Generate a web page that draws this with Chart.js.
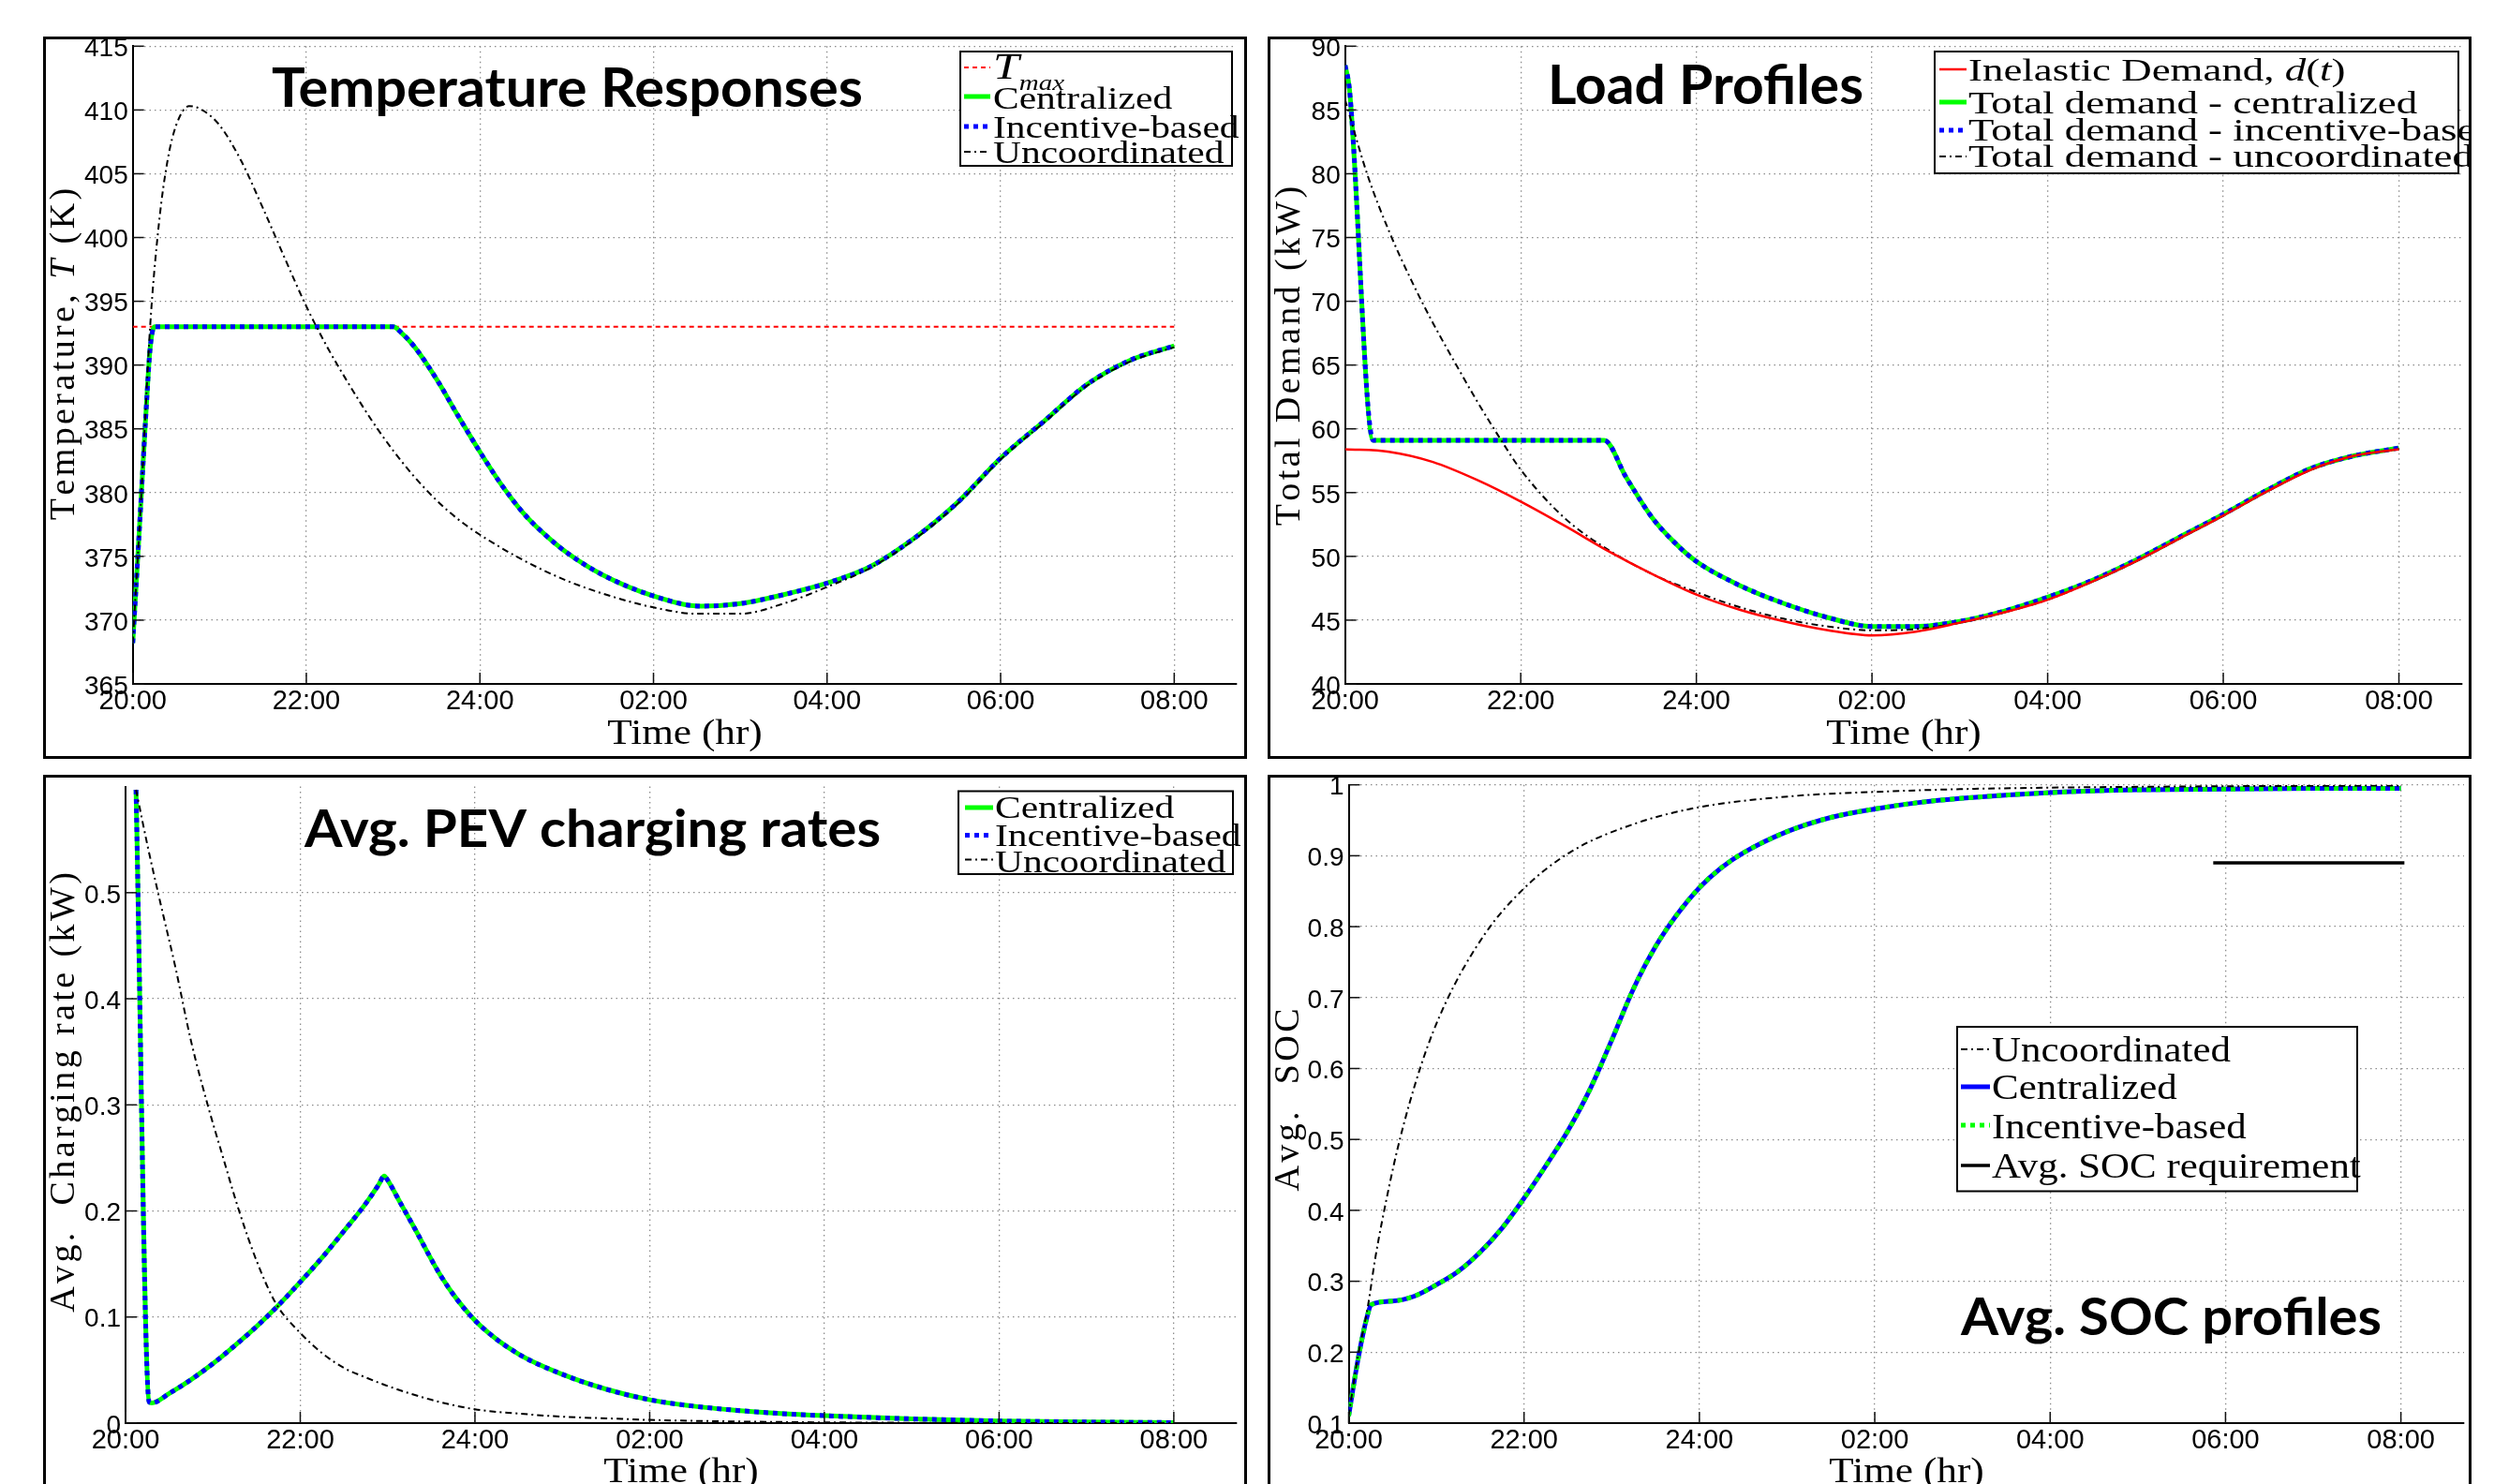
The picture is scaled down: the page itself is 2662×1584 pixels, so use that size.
<!DOCTYPE html>
<html>
<head>
<meta charset="utf-8">
<title>PEV charging coordination</title>
<script src="https://cdn.jsdelivr.net/npm/chart.js@4.4.1/dist/chart.umd.min.js"></script>
<style>
  html, body { margin: 0; padding: 0; background: #fff; }
  body { position: relative; width: 2662px; height: 1584px; overflow: hidden; }
  .frame { position: absolute; box-sizing: border-box; border: 3px solid #000; overflow: hidden; background: #fff; }
  .frame canvas { position: absolute; left: 0; top: 0; }
</style>
</head>
<body>
<script>
// x axis is "hours after 20:00"
var tickHours = [0, 2, 4, 6, 8, 10, 12];
var timeLabels = ['20:00', '22:00', '24:00', '02:00', '04:00', '06:00', '08:00'];
var xMax = 12.72;

// temperature responses (K)
var tempTicks = [365, 370, 375, 380, 385, 390, 395, 400, 405, 410, 415];
var tmaxHours = [0, 12];
var tmaxValues = [393, 393];
var tempHours = [0, 0.05, 0.1, 0.15, 0.2, 0.25, 3.0, 3.1, 3.25, 3.5, 3.75, 4.0, 4.25, 4.5, 4.75, 5.0, 5.4, 6.0, 6.55, 7.0, 7.5, 8.0, 8.5, 9.0, 9.5, 10.0, 10.5, 11.0, 11.5, 12.0];
var tempCentralized = [368.2, 374.0, 380.0, 386.0, 391.3, 393.0, 393.0, 392.5, 391.4, 388.9, 386.0, 383.2, 380.6, 378.4, 376.7, 375.3, 373.6, 371.9, 371.1, 371.3, 372.0, 372.9, 374.2, 376.4, 379.2, 382.7, 385.6, 388.5, 390.4, 391.5];
var tempUncHours = [0, 0.1, 0.2, 0.3, 0.4, 0.5, 0.65, 0.8, 1.0, 1.25, 1.5, 1.75, 2.0, 2.25, 2.5, 2.75, 3.0, 3.25, 3.5, 3.75, 4.0, 4.5, 5.0, 5.5, 6.0, 6.5, 7.0, 7.5, 8.0, 8.5, 9.0, 9.5, 10.0, 10.5, 11.0, 11.5, 12.0];
var tempUncoordinated = [368.2, 380.0, 393.0, 401.0, 406.0, 408.8, 410.3, 410.0, 408.8, 406.0, 402.3, 398.4, 394.6, 391.3, 388.4, 385.7, 383.3, 381.2, 379.4, 377.9, 376.7, 374.7, 373.1, 371.9, 371.0, 370.5, 370.5, 371.3, 372.6, 374.1, 376.3, 379.1, 382.6, 385.5, 388.4, 390.3, 391.4];

// load profiles (kW)
var loadTicks = [40, 45, 50, 55, 60, 65, 70, 75, 80, 85, 90];
var loadHours = [0, 0.5, 1, 1.5, 2, 2.5, 3, 3.5, 4, 4.5, 5, 5.5, 6, 6.5, 7, 7.5, 8, 8.5, 9, 9.5, 10, 10.5, 11, 11.5, 12];
var inelasticDemand = [58.4, 58.2, 57.4, 56.0, 54.3, 52.4, 50.4, 48.6, 47.0, 45.8, 44.9, 44.2, 43.8, 44.1, 44.8, 45.6, 46.6, 48.0, 49.6, 51.4, 53.2, 55.1, 56.8, 57.9, 58.4];
var totalHours = [0, 0.05, 0.32, 2.95, 3.2, 3.5, 3.75, 4.0, 4.5, 5.0, 5.5, 6.0, 6.5, 7.0, 7.5, 8.0, 8.5, 9.0, 9.5, 10.0, 10.5, 11.0, 11.5, 12.0];
var totalCentralized = [88.5, 86.6, 59.1, 59.1, 56.2, 53.0, 51.1, 49.6, 47.7, 46.3, 45.2, 44.5, 44.5, 44.9, 45.7, 46.8, 48.1, 49.7, 51.5, 53.3, 55.2, 56.9, 57.9, 58.5];
var totalUncHours = [0, 0.25, 0.5, 0.75, 1.0, 1.25, 1.5, 1.75, 2.0, 2.5, 3.0, 3.5, 4.0, 4.5, 5.0, 5.5, 6.0, 6.5, 7.0, 7.5, 8.0, 8.5, 9.0, 9.5, 10.0, 10.5, 11.0, 11.5, 12.0];
var totalUncoordinated = [85.8, 80.0, 75.5, 71.7, 68.3, 65.2, 62.2, 59.4, 56.8, 53.0, 50.5, 48.6, 47.2, 46.0, 45.1, 44.5, 44.2, 44.3, 44.8, 45.6, 46.6, 48.0, 49.6, 51.4, 53.2, 55.1, 56.8, 57.9, 58.4];

// avg. PEV charging rates (kW)
var rateTicks = [0, 0.1, 0.2, 0.3, 0.4, 0.5];
var rateHours = [0.12, 0.27, 0.3, 0.5, 0.75, 1.0, 1.25, 1.5, 1.75, 2.0, 2.25, 2.5, 2.75, 2.9, 2.96, 3.0, 3.15, 3.3, 3.6, 3.8, 4.06, 4.5, 5.0, 5.5, 6.0, 6.5, 7.0, 7.5, 8.0, 9.0, 10.0, 11.0, 12.0];
var rateCentralized = [0.597, 0.02, 0.019, 0.028, 0.041, 0.056, 0.073, 0.091, 0.111, 0.133, 0.156, 0.181, 0.207, 0.225, 0.233, 0.229, 0.207, 0.185, 0.140, 0.116, 0.092, 0.065, 0.046, 0.032, 0.022, 0.016, 0.012, 0.009, 0.007, 0.004, 0.002, 0.001, 0.0005];
var rateUncHours = [0.12, 0.25, 0.4, 0.57, 0.75, 0.94, 1.1, 1.3, 1.5, 1.72, 2.0, 2.25, 2.5, 2.75, 3.0, 3.5, 4.0, 4.5, 5.0, 5.5, 6.0, 7.0, 8.0, 9.0, 10.0, 12.0];
var rateUncoordinated = [0.597, 0.545, 0.49, 0.43, 0.36, 0.30, 0.255, 0.20, 0.153, 0.113, 0.085, 0.066, 0.052, 0.043, 0.035, 0.022, 0.013, 0.009, 0.006, 0.0045, 0.003, 0.0015, 0.0007, 0.0003, 0.0001, 0];

// avg. SOC profiles
var socTicks = [0.1, 0.2, 0.3, 0.4, 0.5, 0.6, 0.7, 0.8, 0.9, 1];
var socHours = [0, 0.1, 0.2, 0.26, 0.5, 0.75, 1.0, 1.25, 1.5, 1.75, 2.0, 2.25, 2.5, 2.75, 3.0, 3.25, 3.5, 3.75, 4.0, 4.25, 4.5, 5.0, 5.5, 6.0, 6.5, 7.0, 8.0, 9.0, 10.0, 11.0, 12.0];
var socCentralized = [0.11, 0.185, 0.245, 0.267, 0.272, 0.279, 0.295, 0.314, 0.341, 0.375, 0.417, 0.463, 0.512, 0.570, 0.640, 0.713, 0.772, 0.818, 0.855, 0.883, 0.904, 0.934, 0.954, 0.966, 0.975, 0.981, 0.989, 0.993, 0.994, 0.995, 0.995];
var socUncHours = [0, 0.1, 0.22, 0.3, 0.38, 0.56, 0.83, 1.1, 1.55, 2.0, 2.54, 3.26, 3.98, 5.06, 6.0, 7.0, 8.0, 10.0, 12.0];
var socUncoordinated = [0.11, 0.19, 0.265, 0.33, 0.384, 0.488, 0.606, 0.691, 0.789, 0.854, 0.906, 0.945, 0.968, 0.984, 0.990, 0.994, 0.996, 0.998, 0.999];
var socReqHours = [9.86, 12.04];
var socRequirement = [0.89, 0.89];

var SERIF = '"Liberation Serif", "Times New Roman", serif';
var SANS = '"Liberation Sans", Arial, sans-serif';
var TITLE_FONT = 'Lato, "Open Sans", sans-serif';
var RED = '#ff0000', GREEN = '#00ff00', BLUE = '#0000ff';
var DASHDOT = [7, 4, 2, 4];

Chart.defaults.font.family = SANS;
Chart.defaults.color = '#000';

function series(label, hours, vals, color, width, dash, order) {
  return {
    label: label,
    data: hours.map(function (h, i) { return { x: h, y: vals[i] }; }),
    borderColor: color,
    backgroundColor: color,
    borderWidth: width,
    borderDash: dash,
    pointRadius: 0,
    fill: false,
    cubicInterpolationMode: 'monotone',
    order: order
  };
}

var panels = [
  {
    id: 'temp',
    frame: [46, 39, 1285, 771],
    plot: { l: 141.7, t: 49.3, r: 1320, b: 730 },
    yMin: 365, yMax: 415, yTicks: tempTicks,
    datasets: [
      series('Tmax', tmaxHours, tmaxValues, RED, 2, [5, 4], 3),
      series('Centralized', tempHours, tempCentralized, GREEN, 5, [], 2),
      // incentive-based run sits on top of the centralized one
      series('Incentive-based', tempHours, tempCentralized, BLUE, 5, [5, 5], 1),
      series('Uncoordinated', tempUncHours, tempUncoordinated, '#000', 2, DASHDOT, 0)
    ],
    title: { text: 'Temperature Responses', x0: 290, x1: 921, base: 114, size: 57 },
    xTitle: { cx: 731, base: 794 },
    yTitle: { segs: [{ t: 'Temperature, ' }, { t: 'T', it: 1 }, { t: ' (K)' }], bx: 79, cy: 378 },
    legend: {
      box: [1025, 55, 290, 122], s0: 1029, s1: 1057, tx: 1060, size: 34, sx: 1.22,
      rows: [
        { ds: 0, sy: 72, by: 84, segs: [{ t: 'T', it: 1, big: 1 }, { t: 'max', it: 1, sub: 1 }] },
        { ds: 1, sy: 103, by: 116, segs: [{ t: 'Centralized' }] },
        { ds: 2, sy: 135, by: 147, segs: [{ t: 'Incentive-based' }] },
        { ds: 3, sy: 162, by: 174, segs: [{ t: 'Uncoordinated' }] }
      ]
    }
  },
  {
    id: 'load',
    frame: [1353, 39, 1285, 771],
    plot: { l: 1435.7, t: 49.3, r: 2628, b: 730 },
    yMin: 40, yMax: 90, yTicks: loadTicks,
    datasets: [
      series('Inelastic Demand', loadHours, inelasticDemand, RED, 2.5, [], 0),
      series('Total demand - centralized', totalHours, totalCentralized, GREEN, 5, [], 3),
      series('Total demand - incentive-based', totalHours, totalCentralized, BLUE, 5, [5, 5], 2),
      series('Total demand - uncoordinated', totalUncHours, totalUncoordinated, '#000', 2, DASHDOT, 1)
    ],
    title: { text: 'Load Profiles', x0: 1652, x1: 1989, base: 111, size: 57 },
    xTitle: { cx: 2032, base: 794 },
    yTitle: { segs: [{ t: 'Total Demand (kW)' }], bx: 1387, cy: 380 },
    legend: {
      box: [2065, 55, 559, 130], s0: 2070, s1: 2099, tx: 2101, size: 33, sx: 1.36,
      rows: [
        { ds: 0, sy: 74, by: 86, segs: [{ t: 'Inelastic Demand, ' }, { t: 'd', it: 1 }, { t: '(' }, { t: 't', it: 1 }, { t: ')' }] },
        { ds: 1, sy: 109, by: 121, segs: [{ t: 'Total demand - centralized' }] },
        { ds: 2, sy: 139, by: 150, segs: [{ t: 'Total demand - incentive-based' }] },
        { ds: 3, sy: 167, by: 178, segs: [{ t: 'Total demand - uncoordinated' }] }
      ]
    }
  },
  {
    id: 'rate',
    frame: [46, 827, 1285, 800],
    plot: { l: 134, t: 839.6, r: 1320, b: 1519 },
    yMin: 0, yMax: 0.6, yTicks: rateTicks,
    datasets: [
      series('Centralized', rateHours, rateCentralized, GREEN, 5, [], 2),
      series('Incentive-based', rateHours, rateCentralized, BLUE, 5, [5, 5], 1),
      series('Uncoordinated', rateUncHours, rateUncoordinated, '#000', 2, DASHDOT, 0)
    ],
    title: { text: 'Avg. PEV charging rates', x0: 325, x1: 940, base: 904, size: 56 },
    xTitle: { cx: 727, base: 1582 },
    yTitle: { segs: [{ t: 'Avg.  Charging rate (kW)' }], bx: 79, cy: 1166 },
    legend: {
      box: [1023, 844.5, 293, 88.5], s0: 1030, s1: 1060, tx: 1062, size: 34, sx: 1.22,
      rows: [
        { ds: 0, sy: 862, by: 873, segs: [{ t: 'Centralized' }] },
        { ds: 1, sy: 891.5, by: 903, segs: [{ t: 'Incentive-based' }] },
        { ds: 2, sy: 917.6, by: 931, segs: [{ t: 'Uncoordinated' }] }
      ]
    }
  },
  {
    id: 'soc',
    frame: [1353, 827, 1285, 800],
    plot: { l: 1439.5, t: 837.7, r: 2630, b: 1519 },
    yMin: 0.1, yMax: 1, yTicks: socTicks,
    datasets: [
      series('Uncoordinated', socUncHours, socUncoordinated, '#000', 2, DASHDOT, 0),
      series('Centralized', socHours, socCentralized, BLUE, 5, [], 2),
      series('Incentive-based', socHours, socCentralized, GREEN, 5, [5, 5], 1),
      series('Avg. SOC requirement', socReqHours, socRequirement, '#000', 3.5, [], 3)
    ],
    title: { text: 'Avg. SOC profiles', x0: 2093, x1: 2542, base: 1425, size: 56 },
    xTitle: { cx: 2035, base: 1582 },
    yTitle: { segs: [{ t: 'Avg.  SOC' }], bx: 1386, cy: 1174 },
    legend: {
      box: [2089, 1096, 427, 175.5], s0: 2093, s1: 2124, tx: 2126, size: 37, sx: 1.16,
      rows: [
        { ds: 0, sy: 1120, by: 1133, segs: [{ t: 'Uncoordinated' }] },
        { ds: 1, sy: 1160, by: 1173, segs: [{ t: 'Centralized' }] },
        { ds: 2, sy: 1201, by: 1215, segs: [{ t: 'Incentive-based' }] },
        { ds: 3, sy: 1244, by: 1257, segs: [{ t: 'Avg. SOC requirement' }] }
      ]
    }
  }
];

// serif text with italics / subscripts, optional rotation and letter spacing
function drawRich(ctx, segs, o) {
  var runs = [], w = 0, sp = o.sp || 0;
  segs.forEach(function (s) {
    var sz = s.sub ? o.size * 0.7 : (s.big ? o.size * 1.2 : o.size);
    var font = (s.it ? 'italic ' : '') + sz + 'px ' + SERIF;
    ctx.font = font;
    var parts = sp ? Array.from(s.t) : [s.t];
    parts.forEach(function (c) {
      runs.push({ c: c, font: font, x: w, dy: s.sub ? o.size * 0.34 : 0 });
      w += ctx.measureText(c).width + sp;
    });
  });
  ctx.save();
  ctx.translate(o.x, o.y);
  if (o.rot) ctx.rotate(-Math.PI / 2);
  ctx.scale(o.sx || 1, 1);
  ctx.fillStyle = '#000';
  ctx.textAlign = 'left';
  ctx.textBaseline = 'alphabetic';
  var start = o.center ? -(w - sp) / 2 : 0;
  runs.forEach(function (r) {
    ctx.font = r.font;
    ctx.fillText(r.c, start + r.x, r.dy);
  });
  ctx.restore();
}

function drawTitle(ctx, t) {
  ctx.save();
  ctx.font = 'bold ' + t.size + 'px ' + TITLE_FONT;
  var w = ctx.measureText(t.text).width;
  ctx.translate(t.x0, t.base);
  ctx.scale((t.x1 - t.x0) / w, 1);
  ctx.fillStyle = '#000';
  ctx.textAlign = 'left';
  ctx.textBaseline = 'alphabetic';
  ctx.fillText(t.text, 0, 0);
  ctx.restore();
}

function drawLegend(ctx, chart, L) {
  ctx.save();
  ctx.fillStyle = '#fff';
  ctx.fillRect(L.box[0], L.box[1], L.box[2], L.box[3]);
  ctx.strokeStyle = '#000';
  ctx.lineWidth = 2;
  ctx.setLineDash([]);
  ctx.strokeRect(L.box[0], L.box[1], L.box[2], L.box[3]);
  L.rows.forEach(function (r) {
    var ds = chart.data.datasets[r.ds];
    ctx.save();
    ctx.strokeStyle = ds.borderColor;
    ctx.lineWidth = Math.min(ds.borderWidth, 5);
    ctx.setLineDash(ds.borderDash || []);
    ctx.beginPath();
    ctx.moveTo(L.s0, r.sy);
    ctx.lineTo(L.s1, r.sy);
    ctx.stroke();
    ctx.restore();
    drawRich(ctx, r.segs, { x: L.tx, y: r.by, size: L.size, sx: L.sx });
  });
  ctx.restore();
}

var PANEL = {};

var decor = {
  id: 'decor',
  afterDraw: function (chart) {
    var p = PANEL[chart.canvas.id];
    var ctx = chart.ctx, area = chart.chartArea;
    var xs = chart.scales.x, ys = chart.scales.y;
    ctx.save();
    // MATLAB style inward ticks
    ctx.strokeStyle = '#111';
    ctx.lineWidth = 1.5;
    ctx.setLineDash([]);
    xs.ticks.forEach(function (t) {
      var px = xs.getPixelForValue(t.value);
      ctx.beginPath(); ctx.moveTo(px, area.bottom); ctx.lineTo(px, area.bottom - 12); ctx.stroke();
    });
    ys.ticks.forEach(function (t) {
      var py = ys.getPixelForValue(t.value);
      ctx.beginPath(); ctx.moveTo(area.left, py); ctx.lineTo(area.left + 12, py); ctx.stroke();
    });
    // everything below is placed in page coordinates
    ctx.translate(-p.ox, -p.oy);
    drawTitle(ctx, p.title);
    drawRich(ctx, [{ t: 'Time (hr)' }], { x: p.xTitle.cx, y: p.xTitle.base, size: 37, sx: 1.17, center: true });
    drawRich(ctx, p.yTitle.segs, { x: p.yTitle.bx, y: p.yTitle.cy, size: 38, sp: 3.4, rot: true, center: true });
    drawLegend(ctx, chart, p.legend);
    ctx.restore();
  }
};

function makeChart(p) {
  var div = document.createElement('div');
  div.className = 'frame';
  div.style.left = p.frame[0] + 'px';
  div.style.top = p.frame[1] + 'px';
  div.style.width = p.frame[2] + 'px';
  div.style.height = p.frame[3] + 'px';
  var cv = document.createElement('canvas');
  cv.id = p.id;
  div.appendChild(cv);
  document.body.appendChild(div);

  p.ox = p.frame[0] + 3;
  p.oy = p.frame[1] + 3;
  var w = p.frame[2] - 6, h = p.frame[3] - 6;
  cv.width = w; cv.height = h;
  cv.style.width = w + 'px'; cv.style.height = h + 'px';
  PANEL[p.id] = p;

  function grid() { return { color: '#8c8c8c', lineWidth: 1.3, drawTicks: false }; }
  function border() { return { display: true, color: '#000', width: 2, dash: [1.5, 4] }; }

  return new Chart(cv, {
    type: 'line',
    data: { datasets: p.datasets },
    options: {
      responsive: false,
      animation: false,
      devicePixelRatio: 1,
      layout: { padding: { left: 0, bottom: 0, top: p.plot.t - p.oy, right: p.ox + w - p.plot.r } },
      plugins: { legend: { display: false }, tooltip: { enabled: false } },
      scales: {
        x: {
          type: 'linear', min: 0, max: xMax,
          afterBuildTicks: function (s) { s.ticks = tickHours.map(function (v) { return { value: v }; }); },
          afterFit: function (s) { s.height = p.oy + h - p.plot.b; s.paddingLeft = 0; s.paddingRight = 0; },
          ticks: {
            callback: function (v, i) { return timeLabels[i]; },
            font: { size: 29 }, color: '#000', padding: 2, maxRotation: 0, autoSkip: false
          },
          grid: grid(), border: border()
        },
        y: {
          type: 'linear', min: p.yMin, max: p.yMax,
          afterBuildTicks: function (s) { s.ticks = p.yTicks.map(function (v) { return { value: v }; }); },
          afterFit: function (s) { s.width = p.plot.l - p.ox; s.paddingTop = 0; s.paddingBottom = 0; },
          ticks: {
            callback: function (v) { return String(+v.toFixed(2)); },
            font: { size: 28 }, color: '#000', padding: 5, labelOffset: 3, autoSkip: false
          },
          grid: grid(), border: border()
        }
      }
    },
    plugins: [decor]
  });
}

panels.forEach(makeChart);
</script>
</body>
</html>
